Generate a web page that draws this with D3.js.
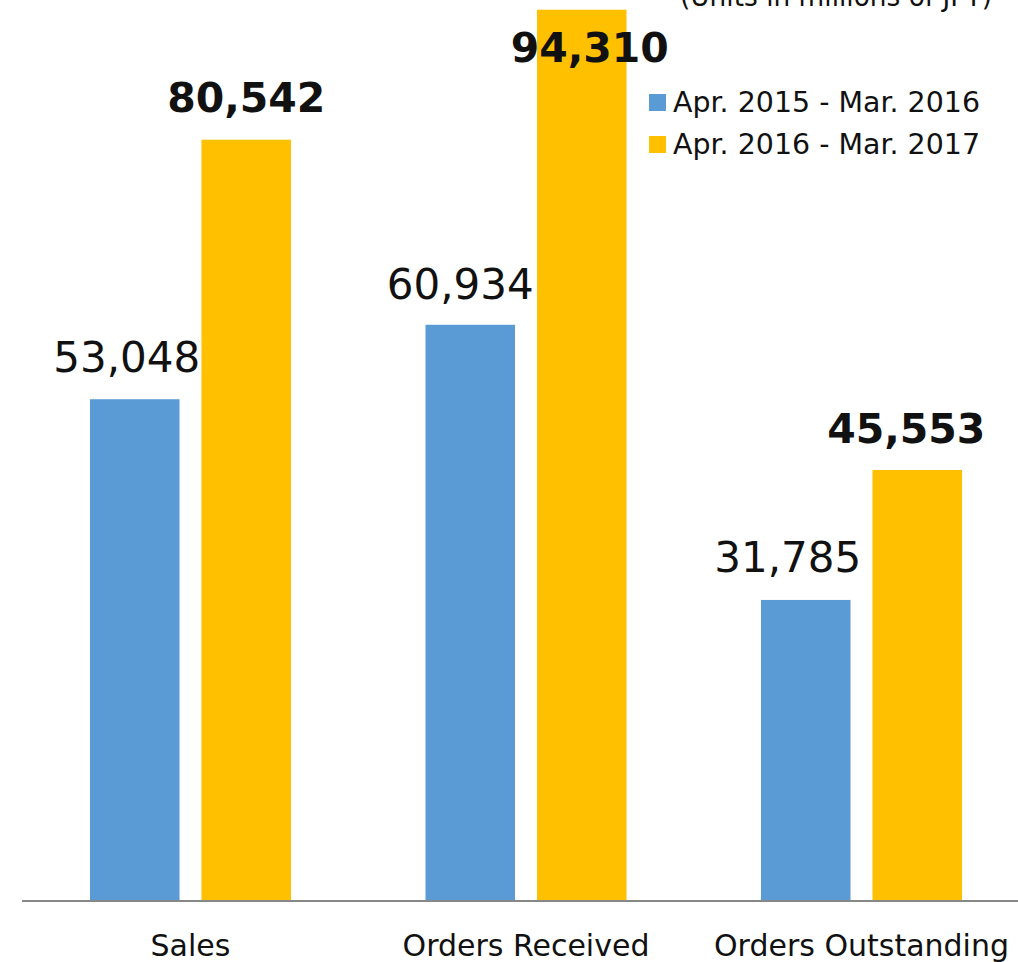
<!DOCTYPE html>
<html><head><meta charset="utf-8">
<script src="https://cdn.jsdelivr.net/npm/d3@7"></script>
<style>html,body{margin:0;padding:0;background:#fff;overflow:hidden}</style>
</head><body>
<svg id="chart" width="1018" height="962"></svg>
<script>
const categories = ["Sales", "Orders Received", "Orders Outstanding"];
const seriesNames = ["Apr. 2015 - Mar. 2016", "Apr. 2016 - Mar. 2017"];
const values2016 = [53048, 60934, 31785];
const values2017 = [80542, 94310, 45553];
const unitsLabel = "(Units in millions of JPY)";

const colors = ["#5B9BD5", "#FFC000"];
const fontFam = "'DejaVu Sans', Verdana, sans-serif";

const svg = d3.select("#chart");
const baseY = 900;
const x0 = d3.scaleBand().domain(categories).range([22.75, 1029.25]).padding(0);
const x1 = d3.scaleBand().domain(seriesNames).range([0, x0.bandwidth()])
  .paddingInner(0.197).paddingOuter(0.603);
const y = d3.scaleLinear().domain([0, 100000]).range([baseY, -44]);

const series = [values2016, values2017];
const fmt = d3.format(",");

// label tweaks (manual placement in the original)
const labelDx = [[-8, 0], [-10, 8], [-18, -11]];
const labelDy = [[-27, -28], [-26, 52], [-28, -27]];

const rows = [];
categories.forEach((c, i) => series.forEach((s, j) => rows.push({c, i, j, v: s[i], name: seriesNames[j]})));

svg.selectAll("rect.bar").data(rows).join("rect")
  .attr("class", "bar")
  .attr("x", d => x0(d.c) + x1(d.name))
  .attr("width", x1.bandwidth())
  .attr("y", d => y(d.v))
  .attr("height", d => baseY - y(d.v))
  .attr("fill", d => colors[d.j]);

// axis line
svg.append("line").attr("x1", 22).attr("x2", 1018).attr("y1", baseY + 1).attr("y2", baseY + 1)
  .attr("stroke", "#878787").attr("stroke-width", 2);

// value labels
svg.selectAll("text.val").data(rows).join("text")
  .attr("class", "val")
  .attr("x", d => x0(d.c) + x1(d.name) + x1.bandwidth() / 2 + labelDx[d.i][d.j])
  .attr("y", d => y(d.v) + labelDy[d.i][d.j])
  .attr("text-anchor", "middle")
  .attr("font-family", fontFam)
  .attr("font-size", d => d.j === 1 ? 41 : 42)
  .attr("font-weight", d => d.j === 1 ? "bold" : "normal")
  .attr("fill", "#111")
  .text(d => fmt(d.v));

// category labels
svg.selectAll("text.cat").data(categories).join("text")
  .attr("class", "cat")
  .attr("x", d => x0(d) + x0.bandwidth() / 2)
  .attr("y", 956)
  .attr("text-anchor", "middle")
  .attr("font-family", fontFam)
  .attr("font-size", 30)
  .attr("fill", "#111")
  .text(d => d);

// legend
const lg = svg.append("g");
seriesNames.forEach((n, j) => {
  lg.append("rect").attr("x", 649).attr("y", 94 + j * 42).attr("width", 17).attr("height", 17).attr("fill", colors[j]);
  lg.append("text").attr("x", 673).attr("y", 112 + j * 42)
    .attr("font-family", fontFam).attr("font-size", 28).attr("fill", "#111")
    .attr("textLength", 307).attr("lengthAdjust", "spacingAndGlyphs").text(n);
});

// units
svg.append("text").attr("x", 680).attr("y", 6)
  .attr("font-family", fontFam).attr("font-size", 28).attr("fill", "#111")
  .attr("textLength", 312).attr("lengthAdjust", "spacingAndGlyphs").text(unitsLabel);
</script>
</body></html>
